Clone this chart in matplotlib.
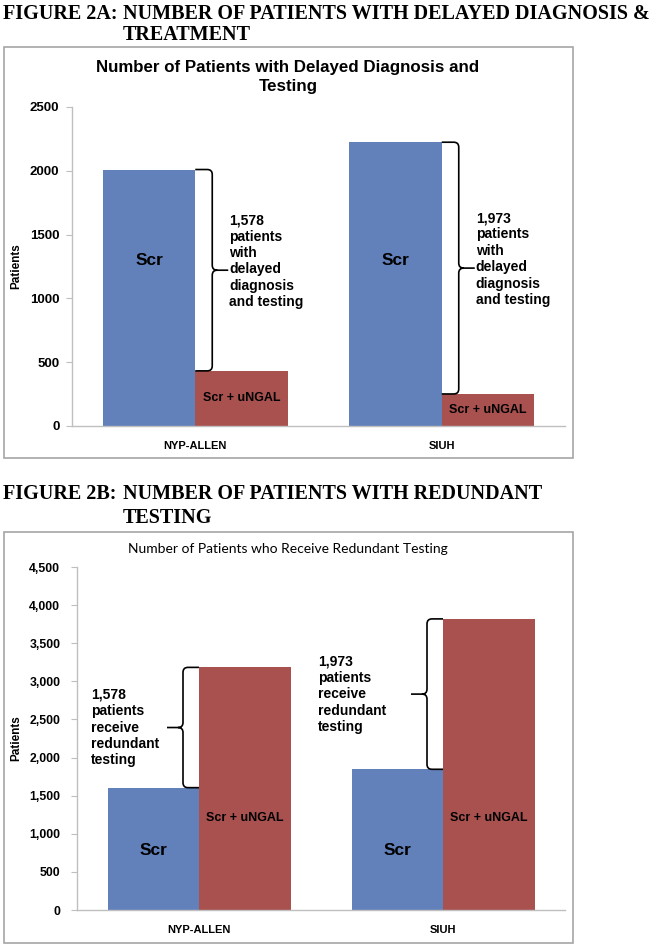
import numpy as np
import matplotlib
matplotlib.use("Agg")
import matplotlib.pyplot as plt
from matplotlib.patches import Rectangle, PathPatch
from matplotlib.path import Path
from matplotlib.transforms import IdentityTransform
from matplotlib.ticker import FuncFormatter

# ---------------- data ----------------
sites = ["NYP-ALLEN", "SIUH"]
# Figure 2A: delayed diagnosis
delayed_scr = [2010, 2224]
delayed_scr_ungal = [432, 251]
delayed_diff_labels = ["1,578", "1,973"]
# Figure 2B: redundant testing
redundant_scr = [1605, 1846]
redundant_scr_ungal = [3183, 3819]
redundant_diff_labels = ["1,578", "1,973"]
yticks_a = [0, 500, 1000, 1500, 2000, 2500]
yticks_b = [0, 500, 1000, 1500, 2000, 2500, 3000, 3500, 4000, 4500]

BLUE = "#6281BB"
RED = "#A8514F"
AXGRAY = "#BFBFBF"
FRAMEGRAY = "#A6A6A6"
SANS = "Liberation Sans"
SERIF = "Liberation Serif"

W, H = 656, 947
fig = plt.figure(figsize=(W / 100, H / 100), dpi=100)


def fx(px):
    return px / W


def fy(py):
    return 1 - py / H


def frame(x0, y0, x1, y1):
    fig.patches.append(Rectangle((fx(x0), fy(y1)), fx(x1) - fx(x0), fy(y0) - fy(y1),
                                 transform=fig.transFigure, fill=False,
                                 edgecolor=FRAMEGRAY, linewidth=1.2))


def brace(ax, x, ytop, ybot, direction, hook=16, tip=16, r=5):
    t = ax.transData
    X0, Yt = t.transform((x, ytop))
    _, Yb = t.transform((x, ybot))
    Ym = (Yt + Yb) / 2
    d = direction
    xb = X0 + d * hook
    verts = [
        (X0, Yt), (xb - d * r, Yt),
        (xb, Yt), (xb, Yt - r),
        (xb, Ym + r),
        (xb, Ym), (xb + d * r, Ym),
        (xb + d * tip, Ym),
        (xb + d * r, Ym),
        (xb, Ym), (xb, Ym - r),
        (xb, Yb + r),
        (xb, Yb), (xb - d * r, Yb),
        (X0, Yb),
    ]
    codes = [Path.MOVETO, Path.LINETO,
             Path.CURVE3, Path.CURVE3,
             Path.LINETO,
             Path.CURVE3, Path.CURVE3,
             Path.LINETO,
             Path.MOVETO,
             Path.CURVE3, Path.CURVE3,
             Path.LINETO,
             Path.CURVE3, Path.CURVE3,
             Path.LINETO]
    p = PathPatch(Path(verts, codes), transform=IdentityTransform(),
                  fill=False, edgecolor="black", linewidth=1.2)
    fig.patches.append(p)
    return xb + d * tip, Ym


def style_axes(ax, ymax, ticks, fmt, ypad, tsize):
    ax.set_xlim(-0.5, 1.5)
    ax.set_ylim(0, ymax)
    for s in ["top", "right"]:
        ax.spines[s].set_visible(False)
    for s in ["left", "bottom"]:
        ax.spines[s].set_color(AXGRAY)
        ax.spines[s].set_linewidth(1.0)
    ax.set_yticks(ticks)
    ax.yaxis.set_major_formatter(FuncFormatter(fmt))
    ax.tick_params(axis="y", length=4, width=0.8, color=AXGRAY, pad=ypad)
    ax.set_xticks(range(len(sites)))
    ax.set_xticklabels(sites)
    ax.tick_params(axis="x", length=0, pad=11)
    for lab in ax.get_yticklabels():
        lab.set_fontfamily(SANS)
        lab.set_fontweight("bold")
        lab.set_fontsize(tsize)
    for lab in ax.get_xticklabels():
        lab.set_fontfamily(SANS)
        lab.set_fontweight("bold")
        lab.set_fontsize(8)
    ax.patch.set_alpha(0)


bw = 0.375
x = np.arange(len(sites))

# ---------------- headings ----------------
head_kw = dict(fontfamily=SERIF, fontweight="bold", fontsize=14.5, va="center", ha="left")
fig.text(fx(3), fy(14), "FIGURE 2A:", **head_kw)
fig.text(fx(123), fy(14), "NUMBER OF PATIENTS WITH DELAYED DIAGNOSIS &", **head_kw)
fig.text(fx(123), fy(35), "TREATMENT", **head_kw)
fig.text(fx(3), fy(494), "FIGURE 2B:", **head_kw)
fig.text(fx(123), fy(494), "NUMBER OF PATIENTS WITH REDUNDANT", **head_kw)
fig.text(fx(123), fy(518), "TESTING", **head_kw)

# ---------------- panel A ----------------
frame(4, 47, 573, 458)
fig.text(fx(288), fy(77), "Number of Patients with Delayed Diagnosis and\nTesting",
         fontfamily=SANS, fontweight="bold", fontsize=12.2, ha="center", va="center",
         linespacing=1.3)
axA = fig.add_axes([fx(72), fy(426), fx(565) - fx(72), fy(107) - fy(426)])
axA.bar(x - bw / 2, delayed_scr, bw, color=BLUE)
axA.bar(x + bw / 2, delayed_scr_ungal, bw, color=RED)
style_axes(axA, 2500, yticks_a, lambda v, p: f"{int(v)}", 5, 9.5)
axA.set_ylabel("Patients", fontfamily=SANS, fontweight="bold", fontsize=8.5)
axA.yaxis.set_label_coords((22 - 72) / 493, 0.5)
fig.canvas.draw()
for i in range(len(sites)):
    axA.text(x[i] - bw / 2, 1300, "Scr", ha="center", va="center",
             fontfamily=SANS, fontweight="bold", fontsize=12.5)
    axA.text(x[i] + bw / 2, delayed_scr_ungal[i] / 2, "Scr + uNGAL", ha="center", va="center",
             fontfamily=SANS, fontweight="bold", fontsize=9)
    tx, ty = brace(axA, x[i], delayed_scr[i], delayed_scr_ungal[i], +1, hook=17, tip=16)
    fig.text((tx + 1) / W, (ty + 9) / H,
             f"{delayed_diff_labels[i]}\npatients\nwith\ndelayed\ndiagnosis\nand testing",
             ha="left", va="center", fontfamily=SANS, fontweight="bold", fontsize=10,
             linespacing=1.22)

# ---------------- panel B ----------------
frame(4, 532, 573, 943)
fig.text(fx(288), fy(549), "Number of Patients who Receive Redundant Testing",
         fontfamily="Lato", fontsize=10, ha="center", va="center")
axB = fig.add_axes([fx(77), fy(910), fx(565) - fx(77), fy(567) - fy(910)])
axB.bar(x - bw / 2, redundant_scr, bw, color=BLUE)
axB.bar(x + bw / 2, redundant_scr_ungal, bw, color=RED)
style_axes(axB, 4500, yticks_b, lambda v, p: f"{int(v):,}", 8, 8.8)
axB.set_ylabel("Patients", fontfamily=SANS, fontweight="bold", fontsize=8.5)
axB.yaxis.set_label_coords((22 - 77) / 488, 0.5)
fig.canvas.draw()
text_left = [91, 318]
for i in range(len(sites)):
    axB.text(x[i] - bw / 2, 787, "Scr", ha="center", va="center",
             fontfamily=SANS, fontweight="bold", fontsize=12.5)
    axB.text(x[i] + bw / 2, 1207, "Scr + uNGAL", ha="center", va="center",
             fontfamily=SANS, fontweight="bold", fontsize=9)
    tx, ty = brace(axB, x[i], redundant_scr_ungal[i], redundant_scr[i], -1, hook=16, tip=16)
    fig.text(text_left[i] / W, ty / H,
             f"{redundant_diff_labels[i]}\npatients\nreceive\nredundant\ntesting",
             ha="left", va="center", fontfamily=SANS, fontweight="bold", fontsize=10,
             linespacing=1.22)

fig.savefig("out.png", dpi=100)
